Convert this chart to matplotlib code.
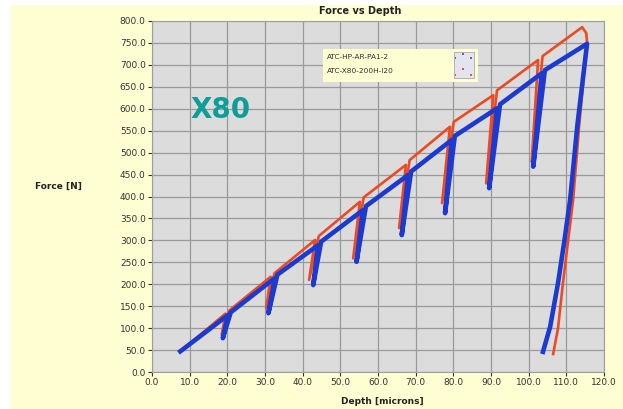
#!/usr/bin/env python3

from matplotlib import pyplot as plt
from matplotlib.patches import Rectangle

# load / partial-unload cycles, depth in microns, force in N
hp_depth = [7.5, 19.5, 18.5, 20.5, 31.5, 30.3, 32.5, 43.3, 41.7, 44.3, 55.2, 53.4,
            56.2, 67.4, 65.6, 68.4, 79.1, 77.0, 80.1, 90.6, 88.7, 91.6, 102.5,
            100.8, 103.7, 114.2, 115.3, 115.5, 113.4, 111.8, 110.5, 109.1,
            107.8, 106.5]
hp_force = [47, 133, 85, 140, 217, 145, 225, 301, 210, 310, 388, 259, 398, 472,
            328, 483, 559, 385, 570, 631, 430, 642, 711, 479, 720, 786, 772,
            752, 560, 392, 301, 203, 100, 41]

x80_depth = [7.5, 20.2, 18.8, 20.9, 32.6, 30.9, 33.3, 44.1, 42.8, 44.9, 56.0,
             54.3, 56.8, 68.0, 66.3, 68.8, 79.6, 77.8, 80.4, 91.6, 89.5, 92.4,
             103.5, 101.2, 104.3, 115.5, 112.9, 111.0, 109.5, 107.8, 105.7, 103.8]
x80_force = [47, 130, 77, 136, 214, 134, 222, 289, 198, 297, 369, 251, 378, 449,
             312, 457, 529, 362, 538, 601, 419, 610, 681, 468, 688, 748, 560,
             392, 300, 203, 103, 46]

legend_names = ["ATC-HP-AR-PA1-2", "ATC-X80-200H-I20"]

W, H = 623, 409
fig = plt.figure(figsize=(W / 100, H / 100), dpi=100, facecolor="white")
fig.patches.append(Rectangle((11 / W, 0), 1 - 11 / W, 1 - 5 / H,
                             transform=fig.transFigure, facecolor="#fefed2",
                             edgecolor="none", zorder=-10))

ax = fig.add_axes([152 / W, 1 - 372 / H, 452 / W, 351 / H])
ax.set_facecolor("#dcdcdc")

ax.plot(hp_depth, hp_force, color="#ec4a22", lw=1.9, solid_joinstyle="round", zorder=3)
ax.plot(x80_depth, x80_force, color="#1c3ad0", lw=3.3, solid_joinstyle="round", zorder=4)

ax.set_xlim(0, 120)
ax.set_ylim(0, 800)
ax.set_xticks(range(0, 121, 10))
ax.set_yticks(range(0, 801, 50))
ax.xaxis.set_major_formatter("{x:.1f}")
ax.yaxis.set_major_formatter("{x:.1f}")
ax.tick_params(labelsize=6.5, colors="#333333", length=3, width=0.8, pad=1.5)
ax.grid(True, color="#9a9a9a", lw=0.9)
ax.set_axisbelow(True)
for s in ax.spines.values():
    s.set_color("#a0a0a0")
    s.set_linewidth(0.8)

fig.text(360 / W, 1 - 11 / H, "Force vs Depth", fontsize=7, fontweight="bold",
         ha="center", va="center", color="#222222")
fig.text(58 / W, 1 - 186 / H, "Force [N]", fontsize=6.5, fontweight="bold",
         ha="center", va="center", color="#222222")
fig.text(382 / W, 1 - 402 / H, "Depth [microns]", fontsize=6.5, fontweight="bold",
         ha="center", va="center", color="#222222")
fig.text(221 / W, 1 - 110 / H, "X80", fontsize=20, fontweight="bold",
         ha="center", va="center", color="#0e9e9a")

# legend box drawn by hand, names left and a small dotted swatch right
lx0, lx1, ly0, ly1 = 323, 478, 49, 82
fig.patches.append(Rectangle((lx0 / W, 1 - ly1 / H), (lx1 - lx0) / W, (ly1 - ly0) / H,
                             transform=fig.transFigure, facecolor="#fefed2",
                             edgecolor="none", zorder=5))
fig.text(327 / W, 1 - 57 / H, legend_names[0], fontsize=5.3, ha="left", va="center",
         color="#333333", zorder=6)
fig.text(327 / W, 1 - 71 / H, legend_names[1], fontsize=5.3, ha="left", va="center",
         color="#333333", zorder=6)
fig.patches.append(Rectangle((454 / W, 1 - 78 / H), 20 / W, 26 / H,
                             transform=fig.transFigure, facecolor="#e4e4ee",
                             edgecolor="#aaaaaa", lw=0.6, zorder=6))
dots = [(455.5, 58, "#5566aa"), (463, 54, "#5566aa"), (471, 58, "#5566aa"),
        (463, 69, "#dd5544"), (455.5, 75, "#dd5544"), (471, 75, "#dd5544")]
for px, py, c in dots:
    fig.patches.append(Rectangle(((px - 0.7) / W, 1 - (py + 0.7) / H), 1.4 / W, 1.4 / H,
                                 transform=fig.transFigure, facecolor=c,
                                 edgecolor="none", zorder=7))

plt.savefig("out.png", dpi=100)
